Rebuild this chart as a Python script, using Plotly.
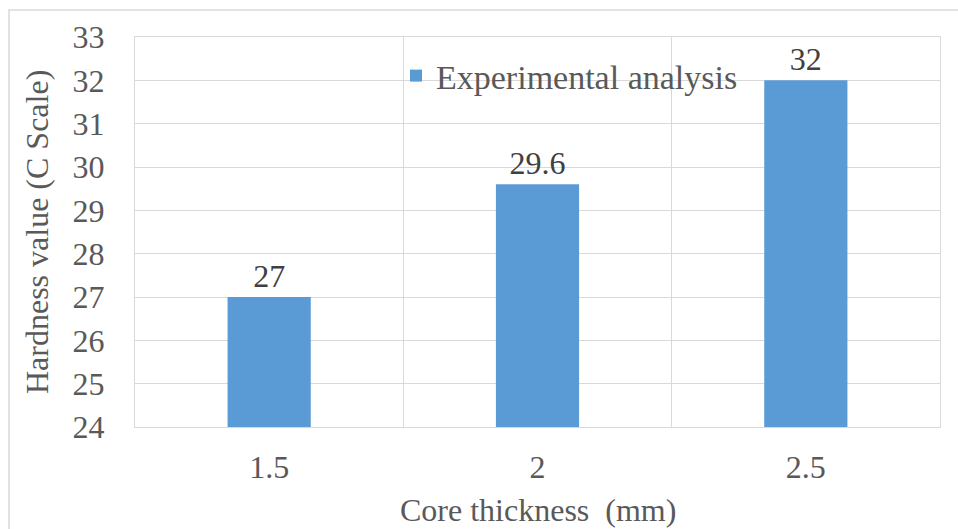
import plotly.graph_objects as go

categories = ["1.5", "2", "2.5"]
hardness = [27, 29.6, 32]
label_text = ["27", "29.6", "32"]
y_ticks = [24, 25, 26, 27, 28, 29, 30, 31, 32, 33]
series_name = "Experimental analysis"

W, H = 958, 529
ML, MR, MT, MB = 135, 18, 37, 102
PW, PH = W - ML - MR, H - MT - MB

FONT = "Liberation Serif"
GRID = "#d9d9d9"

fig = go.Figure()
fig.add_trace(go.Bar(
    x=categories, y=hardness, name=series_name,
    marker=dict(color="#5b9bd5", line=dict(width=0)),
    text=label_text, textposition="outside", cliponaxis=False,
    textfont=dict(family=FONT, size=32, color="#404040"),
    showlegend=True,
))

def px_to_paper_x(px):
    return (px - ML) / PW

def px_to_paper_y(py):
    return (H - MB - py) / PH

fig.update_layout(
    width=W, height=H,
    margin=dict(l=ML, r=MR, t=MT, b=MB, autoexpand=False),
    paper_bgcolor="white", plot_bgcolor="white",
    font=dict(family=FONT, size=32, color="#595959"),
    bargap=0.69,
    showlegend=True,
    legend=dict(
        x=px_to_paper_x(396), y=px_to_paper_y(47), xanchor="left", yanchor="top",
        bgcolor="rgba(0,0,0,0)", font=dict(family=FONT, size=34, color="#595959"),
        itemsizing="constant",
    ),
    xaxis=dict(
        type="category", tickson="boundaries", showgrid=True, gridcolor=GRID, gridwidth=1,
        showline=True, linecolor=GRID, mirror=True,
        ticks="", ticklabelstandoff=12,
        tickfont=dict(family=FONT, size=32, color="#595959"),
        automargin=False,
    ),
    yaxis=dict(
        range=[24, 33], tickvals=y_ticks, showgrid=True, gridcolor=GRID, gridwidth=1,
        showline=True, linecolor=GRID, mirror=True, zeroline=False,
        ticks="outside", ticklen=23, tickcolor="rgba(0,0,0,0)",
        tickfont=dict(family=FONT, size=32, color="#595959"),
        automargin=False,
    ),
    annotations=[
        dict(text="Core thickness  (mm)", xref="paper", yref="paper",
             x=0.5, y=px_to_paper_y(510), xanchor="center", yanchor="middle",
             showarrow=False, font=dict(family=FONT, size=32, color="#595959")),
        dict(text="Hardness value (C Scale)", xref="paper", yref="paper",
             x=px_to_paper_x(37), y=0.5, xanchor="center", yanchor="middle", textangle=-90,
             showarrow=False, font=dict(family=FONT, size=32, color="#595959")),
    ],
    shapes=[dict(
        type="rect", xref="paper", yref="paper",
        x0=px_to_paper_x(9), x1=px_to_paper_x(962),
        y0=px_to_paper_y(533), y1=px_to_paper_y(10),
        line=dict(color=GRID, width=1.5), fillcolor="rgba(0,0,0,0)", layer="below",
    )],
)

fig.write_html("out.html")
